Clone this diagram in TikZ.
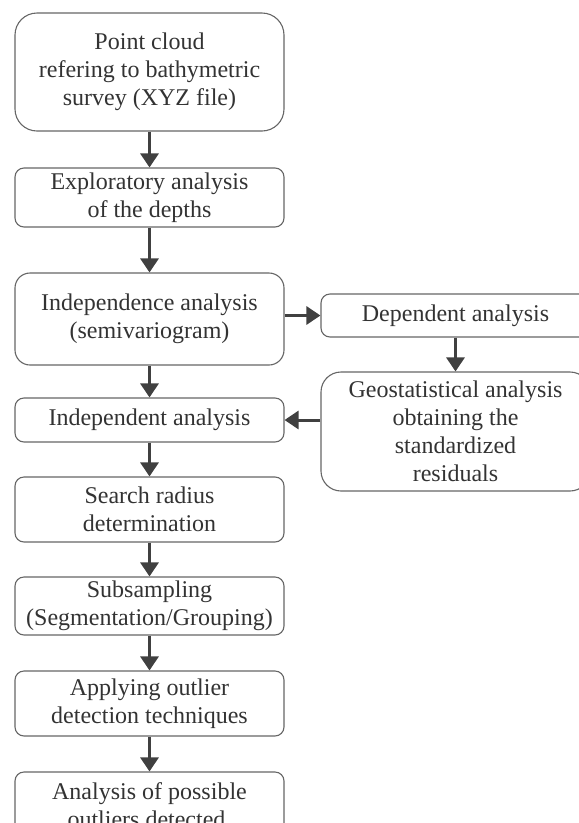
\documentclass[tikz,border=0pt]{standalone}
\usepackage{fontspec}
\setmainfont{Liberation Serif}
\usetikzlibrary{arrows.meta}
\definecolor{boxline}{HTML}{666666}
\definecolor{arrowcol}{HTML}{404040}
\definecolor{textcol}{HTML}{333333}

\begin{document}
\begin{tikzpicture}[x=1pt,y=-1pt,
   stage/.style={draw=boxline, line width=1.1pt, fill=white, text=textcol, align=center,
      inner sep=0pt, minimum width=269pt, rounded corners=9pt,
      font=\fontsize{24}{28}\selectfont},
   flow/.style={-{Triangle[width=18pt,length=14pt]}, line width=3pt, draw=arrowcol}]
   \useasboundingbox (0,0) rectangle (579,823);
   \node [stage, rounded corners=22pt, minimum height=118pt] (cloud) at (149.5,72) {Point cloud\\refering to bathymetric\\survey (XYZ file)};
   \node [stage, minimum height=59pt] (explore) at (149.5,197.5) {Exploratory analysis\\of the depths};
   \node [stage, rounded corners=15pt, minimum height=92pt] (indep) at (149.5,319) {Independence analysis\\(semivariogram)};
   \node [stage, minimum height=44pt] (indan) at (149.5,420) {Independent analysis};
   \node [stage, minimum height=65pt] (radius) at (149.5,509.5) {Search radius\\determination};
   \node [stage, minimum height=58pt] (subsamp) at (149.5,606) {Subsampling\\(Segmentation/Grouping)};
   \node [stage, minimum height=65pt] (apply) at (149.5,703.5) {Applying outlier\\detection techniques};
   \node [stage, minimum height=66pt] (possible) at (149.5,805) {Analysis of possible\\outliers detected.};
   \node [stage, minimum height=43pt] (dep) at (455.5,315.5) {Dependent analysis};
   \node [stage, rounded corners=20pt, minimum height=119pt] (geo) at (455.5,431.5) {Geostatistical analysis\\obtaining the\\standardized\\residuals};
   \draw [flow] (cloud) -- (explore);
   \draw [flow] (explore) -- (indep);
   \draw [flow] (indep) -- (indan);
   \draw [flow] (indan) -- (radius);
   \draw [flow] (radius) -- (subsamp);
   \draw [flow] (subsamp) -- (apply);
   \draw [flow] (apply) -- (possible);
   \draw [flow] (indep.east |- dep.west) -- (dep.west);
   \draw [flow] (dep) -- (geo);
   \draw [flow] (geo.west |- indan.east) -- (indan.east);
\end{tikzpicture}
\end{document}
